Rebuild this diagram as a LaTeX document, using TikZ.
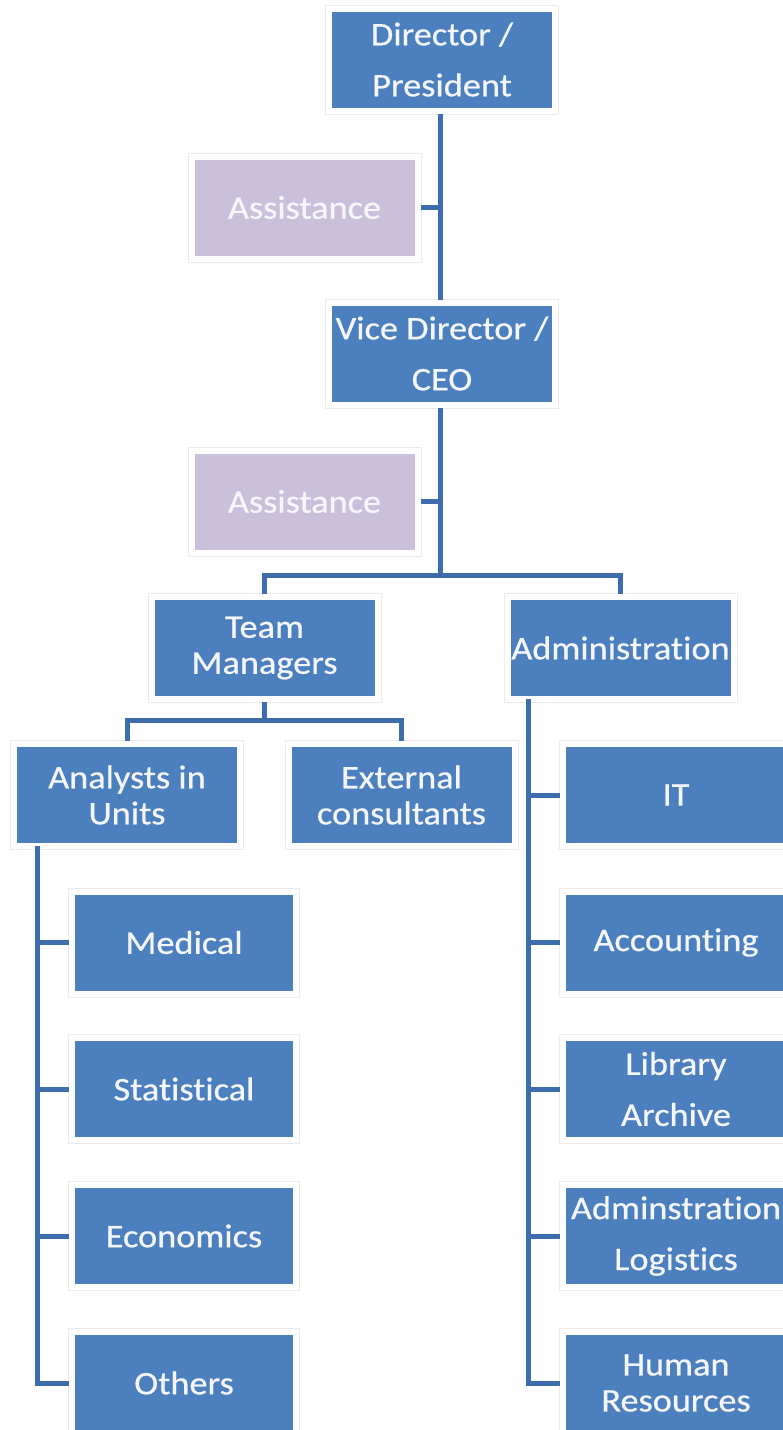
\documentclass[tikz,border=0pt]{standalone}
\usepackage{fontspec}
\setmainfont{Carlito}[FakeStretch=1.1, FakeBold=0.6, Ligatures=NoCommon]
\definecolor{boxblue}{HTML}{4B7FBE}
\definecolor{lav}{HTML}{CBC0DB}
\definecolor{linec}{HTML}{3E6DAD}
\definecolor{txt}{HTML}{F4F6FB}
\tikzset{
  orgbox/.style={fill=boxblue, draw=white, line width=6pt,
    preaction={draw=black!8, line width=8pt},
    text=txt, align=center, inner sep=0pt,
    minimum width=226pt, minimum height=102pt,
    font={\fontsize{33}{36}\selectfont}},
  widesp/.style={font={\fontsize{33}{51}\selectfont}},
  assistbox/.style={orgbox, fill=lav},
  conn/.style={draw=linec, line width=5pt}
}
\begin{document}
\begin{tikzpicture}[x=1pt,y=-1pt]
\useasboundingbox (0,0) rectangle (783,1430);
% top
\node[orgbox,widesp] (dir) at (442,59.5) {Director /\\President};
\node[assistbox] (as1) at (304.5,207.5) {Assistance};
\node[orgbox,widesp] (vice) at (442,353.5) {Vice Director /\\CEO};
\node[assistbox] (as2) at (304.5,501.5) {Assistance};
\node[orgbox] (tm) at (264.5,648) {Team\\Managers};
\node[orgbox] (adm) at (620.5,648) {Administration};
\node[orgbox] (an) at (127,795) {Analysts in\\Units};
\node[orgbox] (ext) at (401.5,795) {External\\consultants};
% left column
\node[orgbox,minimum width=224pt] (med) at (184,942.5) {Medical};
\node[orgbox,minimum width=224pt] (stat) at (184,1089) {Statistical};
\node[orgbox,minimum width=224pt] (eco) at (184,1236) {Economics};
\node[orgbox,minimum width=224pt] (oth) at (184,1383) {Others};
% right column
\node[orgbox] (it) at (676,795) {IT};
\node[orgbox] (acc) at (676,942.5) {Accounting};
\node[orgbox,widesp] (lib) at (676,1089) {Library\\Archive};
\node[orgbox,widesp] (log) at (676,1236) {Adminstration\\Logistics};
\node[orgbox] (hr) at (676,1383) {Human\\Resources};
% coordinates
\coordinate (b1) at (440,575);
\coordinate (b2) at (264.5,720);
\coordinate (s1) at (37,846);
\coordinate (s2) at (528,699);
% connectors
\draw[conn] (dir.south -| b1) -- (vice.north -| b1);
\draw[conn] (as1.east) -- (as1.east -| b1);
\draw[conn] (as2.east) -- (as2.east -| b1);
\draw[conn] (vice.south -| b1) -- (b1);
\draw[conn] (tm.north) |- (b1) -| (adm.north);
\draw[conn] (tm.south) -- (b2);
\draw[conn] (an.north) |- (b2) -| (ext.north);
\draw[conn] (s1) |- (oth.west);
\draw[conn] (med.west) -- (med.west -| s1);
\draw[conn] (stat.west) -- (stat.west -| s1);
\draw[conn] (eco.west) -- (eco.west -| s1);
\draw[conn] (s2) |- (hr.west);
\draw[conn] (it.west) -- (it.west -| s2);
\draw[conn] (acc.west) -- (acc.west -| s2);
\draw[conn] (lib.west) -- (lib.west -| s2);
\draw[conn] (log.west) -- (log.west -| s2);
\end{tikzpicture}
\end{document}
